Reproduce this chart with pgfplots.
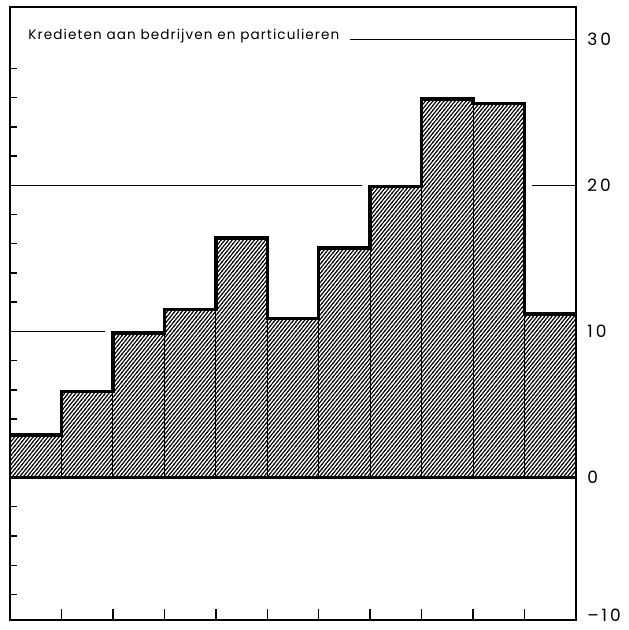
\documentclass[border=0pt]{standalone}
\usepackage{pgfplots}
\pgfplotsset{compat=1.18}
\usetikzlibrary{patterns}
\usepackage{fontspec}
\setmainfont{Poppins}

% hatch for the bars
\pgfdeclarepatternformonly{hatch}{\pgfqpoint{-0.5pt}{-0.5pt}}{\pgfqpoint{2.35pt}{2.8pt}}{\pgfqpoint{1.85pt}{2.3pt}}{
  \pgfsetlinewidth{0.55pt}
  \pgfpathmoveto{\pgfqpoint{-0.185pt}{-0.23pt}}
  \pgfpathlineto{\pgfqpoint{2.035pt}{2.53pt}}
  \pgfusepath{stroke}}

\tikzset{scalelab/.style={anchor=west, xshift=5.5pt, inner sep=0pt,
    font=\addfontfeatures{LetterSpace=18}\fontsize{8.5}{8.5}\selectfont}}

\begin{document}
\begin{tikzpicture}
\begin{axis}[
    width=283pt, height=306.5pt, scale only axis,
    xmin=0, xmax=11, ymin=-9.75, ymax=32.2,
    axis line style={line width=0.8pt},
    xtick={1,...,10}, xticklabels={}, xtick pos=bottom,
    ytick={0}, yticklabels={}, minor ytick={-8,-6,...,28}, ytick pos=left,
    tick align=inside, major tick length=5.5pt, minor tick length=3.5pt,
    tick style={black, line width=0.7pt},
    clip=false,
]
% reference lines behind the bars
\addplot[line width=0.6pt] coordinates {(0,10)(1.85,10)};
\addplot[line width=0.6pt] coordinates {(0,20)(6.85,20)};
\addplot[line width=0.6pt] coordinates {(10.15,20)(11,20)};
\addplot[line width=0.6pt] coordinates {(6.6,30)(11,30)};

\addplot[ybar interval, draw=black, line width=0.5pt, fill=white, postaction={pattern=hatch}]
  coordinates {(0,2.9)(1,5.9)(2,9.9)(3,11.5)(4,16.4)(5,10.9)(6,15.7)(7,19.9)(8,25.9)(9,25.6)(10,11.2)(11,11.2)};
\addplot[const plot mark left, line width=1.7pt, line join=miter]
  coordinates {(0,2.9)(1,5.9)(2,9.9)(3,11.5)(4,16.4)(5,10.9)(6,15.7)(7,19.9)(8,25.9)(9,25.6)(10,11.2)(11,11.2)};
\addplot[line width=1.3pt] coordinates {(0,0)(11,0)};

\node[anchor=base west, inner sep=0pt,
  font=\addfontfeatures{LetterSpace=8}\fontsize{6.8}{6.8}\selectfont]
  at (axis cs:0.35,30) {Kredieten aan bedrijven en particulieren};
% value labels of the right-hand scale
\node[scalelab] at (axis cs:11,30) {30};
\node[scalelab] at (axis cs:11,20) {20};
\node[scalelab] at (axis cs:11,10) {10};
\node[scalelab] at (axis cs:11,0) {0};
\node[scalelab] at (axis cs:11,-9.45) {--\,10};
\end{axis}
\pgfresetboundingbox
\path (current axis.south west) ++(-5pt,-5pt) coordinate (bl)
  (current axis.north east) ++(26.5pt,3.5pt) coordinate (tr);
\path[use as bounding box] (bl) rectangle (tr);
\end{tikzpicture}
\end{document}
